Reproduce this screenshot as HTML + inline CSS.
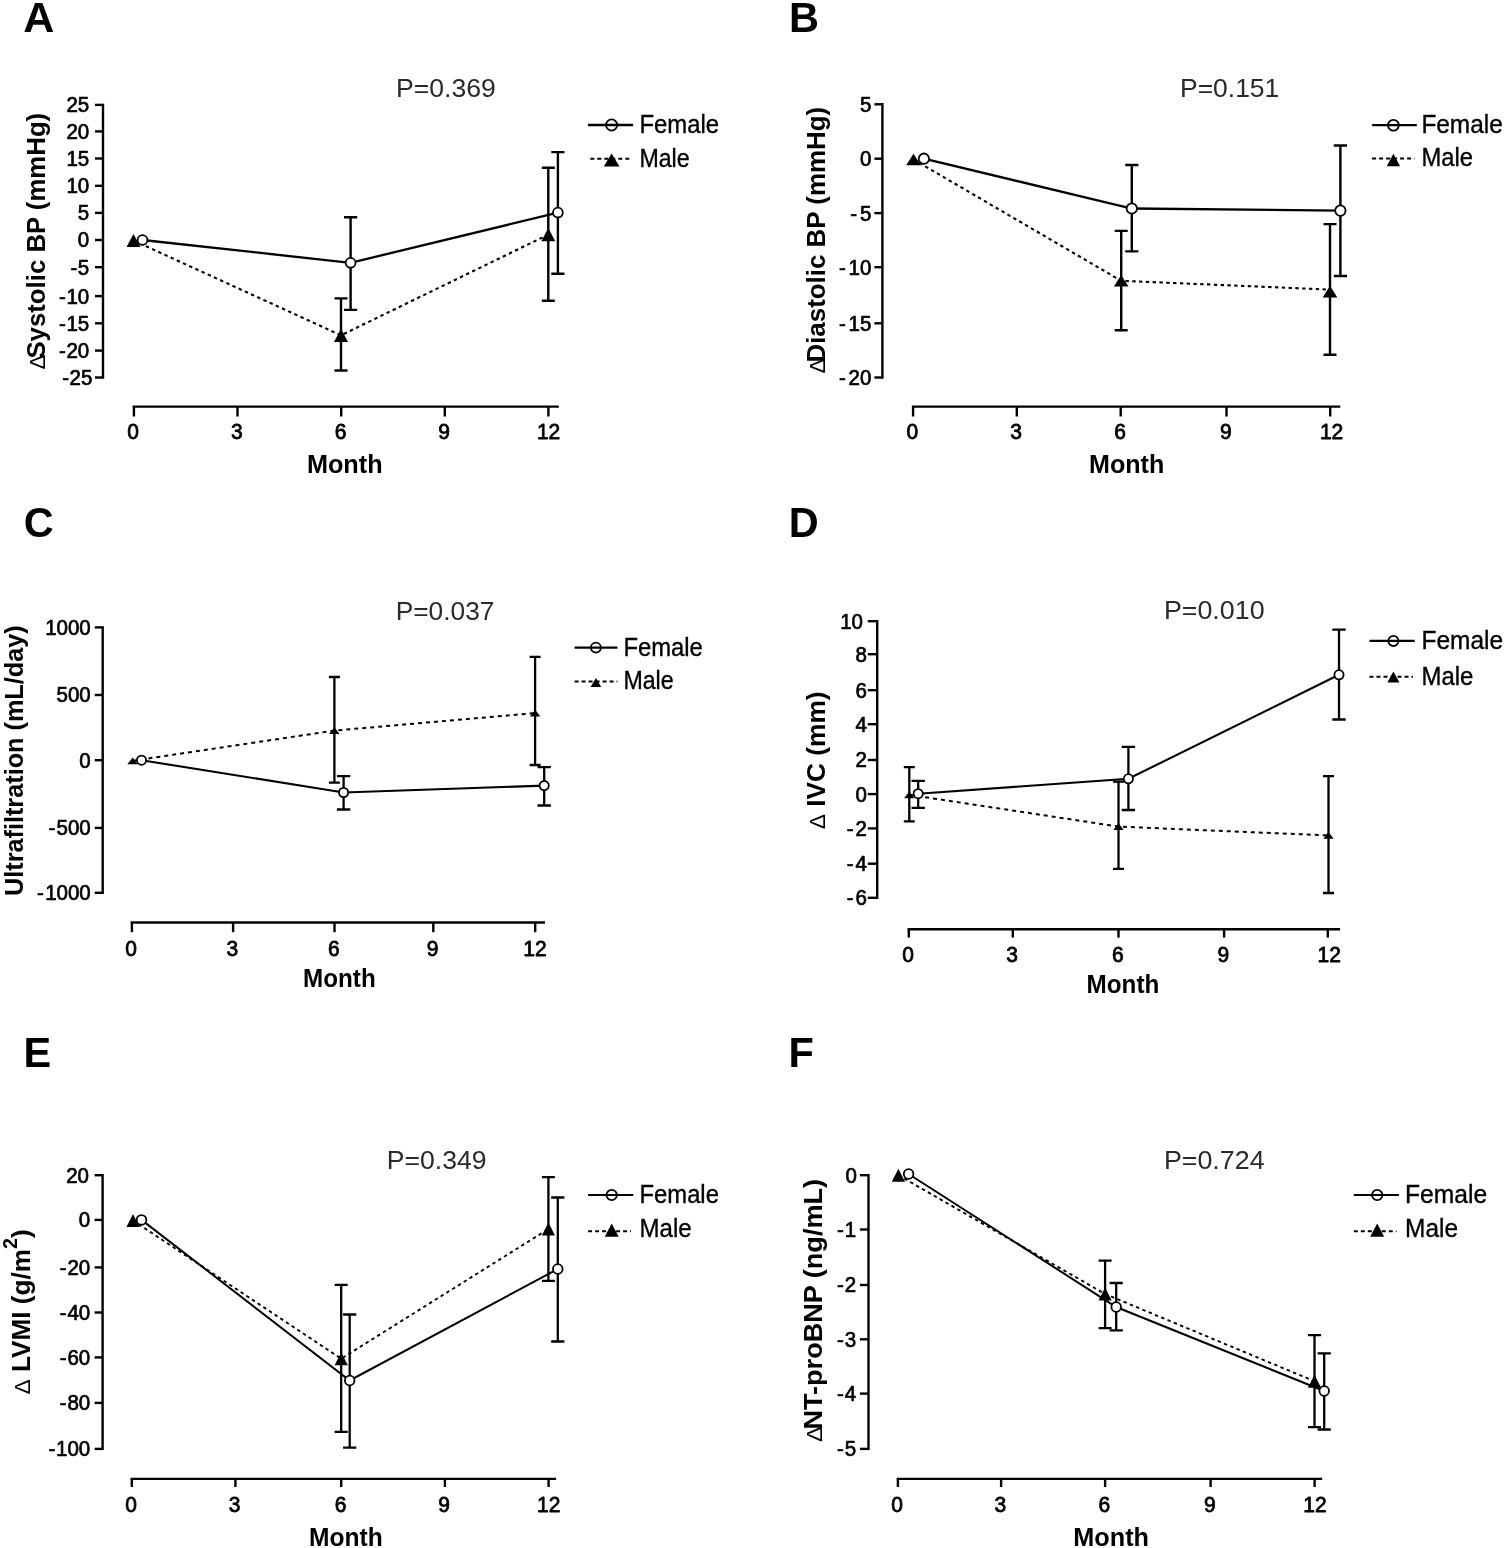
<!DOCTYPE html>
<html lang="en">
<head>
<meta charset="utf-8">
<title>Figure: changes by sex over 12 months (panels A-F)</title>
<style>
html,body{margin:0;padding:0;background:#fff;}
body{width:1505px;height:1548px;overflow:hidden;}
svg{display:block;font-family:"Liberation Sans", sans-serif;}
.pv{fill:#2a2a2a;}
.lg{stroke:#000;stroke-width:0.35px;}
.dl{font-size:22px;font-weight:normal;}
.tl text{stroke:#000;stroke-width:0.7px;stroke-linejoin:round;}
.tl text.xl{stroke-width:0.8px;}
</style>
</head>
<body>
<svg width="1505" height="1548" viewBox="0 0 1505 1548" role="img" aria-label="Six line charts comparing female and male patients over 12 months">
<rect width="1505" height="1548" fill="#fff"/>
<g class="panel" id="panel-A">
<text x="23.3" y="32" font-size="43" font-weight="bold" textLength="31.05" lengthAdjust="spacingAndGlyphs">A</text>
<g class="plot">
<text x="396" y="97.2" font-size="26.5" textLength="99.9" lengthAdjust="spacingAndGlyphs" class="pv">P=0.369</text>
<g stroke="#000" fill="none">
<line x1="103" y1="103.7" x2="103" y2="378.7" stroke-width="2.4"/>
<line x1="95" y1="104.9" x2="103" y2="104.9" stroke-width="2.4"/>
<line x1="95" y1="131.4" x2="103" y2="131.4" stroke-width="2.4"/>
<line x1="95" y1="158.5" x2="103" y2="158.5" stroke-width="2.4"/>
<line x1="95" y1="185.8" x2="103" y2="185.8" stroke-width="2.4"/>
<line x1="95" y1="212.9" x2="103" y2="212.9" stroke-width="2.4"/>
<line x1="95" y1="240" x2="103" y2="240" stroke-width="2.4"/>
<line x1="95" y1="267.2" x2="103" y2="267.2" stroke-width="2.4"/>
<line x1="95" y1="296.1" x2="103" y2="296.1" stroke-width="2.4"/>
<line x1="95" y1="323.3" x2="103" y2="323.3" stroke-width="2.4"/>
<line x1="95" y1="350.6" x2="103" y2="350.6" stroke-width="2.4"/>
<line x1="95" y1="377.5" x2="103" y2="377.5" stroke-width="2.4"/>
<line x1="132.7" y1="406.6" x2="558.8" y2="406.6" stroke-width="2.4"/>
<line x1="133.9" y1="406.6" x2="133.9" y2="416.5" stroke-width="2.4"/>
<line x1="237.5" y1="406.6" x2="237.5" y2="416.5" stroke-width="2.4"/>
<line x1="341.2" y1="406.6" x2="341.2" y2="416.5" stroke-width="2.4"/>
<line x1="444.8" y1="406.6" x2="444.8" y2="416.5" stroke-width="2.4"/>
<line x1="548.4" y1="406.6" x2="548.4" y2="416.5" stroke-width="2.4"/>
</g>
<g class="tl">
<text transform="translate(89.2 112.3) scale(0.962 1)" font-size="21.3" text-anchor="end">25</text>
<text transform="translate(89.2 138.8) scale(0.962 1)" font-size="21.3" text-anchor="end">20</text>
<text transform="translate(89.2 165.9) scale(0.962 1)" font-size="21.3" text-anchor="end">15</text>
<text transform="translate(89.2 193.2) scale(0.962 1)" font-size="21.3" text-anchor="end">10</text>
<text transform="translate(89.2 220.3) scale(0.962 1)" font-size="21.3" text-anchor="end">5</text>
<text transform="translate(89.2 247.4) scale(0.962 1)" font-size="21.3" text-anchor="end">0</text>
<text transform="translate(89.2 274.6) scale(0.962 1)" font-size="21.3" text-anchor="end">-<tspan dx="0.52">5</tspan></text>
<text transform="translate(89.2 303.5) scale(0.962 1)" font-size="21.3" text-anchor="end">-<tspan dx="0.52">10</tspan></text>
<text transform="translate(89.2 330.7) scale(0.962 1)" font-size="21.3" text-anchor="end">-<tspan dx="0.52">15</tspan></text>
<text transform="translate(89.2 358) scale(0.962 1)" font-size="21.3" text-anchor="end">-<tspan dx="0.52">20</tspan></text>
<text transform="translate(92.3 384.9) scale(0.962 1)" font-size="21.3" text-anchor="end">-<tspan dx="0.52">25</tspan></text>
<text x="133.2" y="439.4" font-size="21.6" text-anchor="middle" textLength="11.68" lengthAdjust="spacingAndGlyphs" class="xl">0</text>
<text x="236.8" y="439.4" font-size="21.6" text-anchor="middle" textLength="11.68" lengthAdjust="spacingAndGlyphs" class="xl">3</text>
<text x="340.5" y="439.4" font-size="21.6" text-anchor="middle" textLength="11.68" lengthAdjust="spacingAndGlyphs" class="xl">6</text>
<text x="444.1" y="439.4" font-size="21.6" text-anchor="middle" textLength="11.68" lengthAdjust="spacingAndGlyphs" class="xl">9</text>
<text x="548.6" y="439.4" font-size="21.6" text-anchor="middle" textLength="23.35" lengthAdjust="spacingAndGlyphs" class="xl">12</text>
</g>
<text x="306.9" y="473.1" font-size="25.3" font-weight="bold" textLength="75.7" lengthAdjust="spacingAndGlyphs" class="at">Month</text>
<text transform="translate(45 369.5) rotate(-90) scale(1 1.04)" font-size="25.3" font-weight="bold" textLength="256.7" lengthAdjust="spacingAndGlyphs" class="at"><tspan class="dl">Δ</tspan><tspan dx="-4">Systolic BP (mmHg)</tspan></text>
<g stroke="#000" fill="none">
<path d="M334.5 298.4H347.5M341 298.4V370.5M334.5 370.5H347.5" stroke-width="2.4"/>
<path d="M541.8 167.8H554.8M548.3 167.8V300.7M541.8 300.7H554.8" stroke-width="2.4"/>
<path d="M344 217.3H357.2M350.6 217.3V309.9M344 309.9H357.2" stroke-width="2.4"/>
<path d="M551.3 152.1H564.5M557.9 152.1V273.8M551.3 273.8H564.5" stroke-width="2.4"/>
<polyline points="133.5,240.5 341,335.3 548.3,234.6" stroke-width="2.1" stroke-dasharray="3.4 3.4"/>
<polyline points="142.5,240 350.6,262.8 557.9,212.6" stroke-width="2.3"/>
</g>
<path d="M133.5 233.9L140.5 247.1H126.5Z"/>
<path d="M341 328.7L348 341.9H334Z"/>
<path d="M548.3 228L555.3 241.2H541.3Z"/>
<circle cx="142.5" cy="240" r="4.9" fill="#fff" stroke="#000" stroke-width="1.8"/>
<circle cx="350.6" cy="262.8" r="4.9" fill="#fff" stroke="#000" stroke-width="1.8"/>
<circle cx="557.9" cy="212.6" r="4.9" fill="#fff" stroke="#000" stroke-width="1.8"/>
<circle cx="611.6" cy="125" r="5.6" fill="#fff" stroke="#000" stroke-width="1.8"/>
<g stroke="#000" fill="none">
<line x1="587.9" y1="125" x2="633.1" y2="125" stroke-width="2.3"/>
<line x1="590.3" y1="158.8" x2="631.1" y2="158.8" stroke-width="2.1" stroke-dasharray="4 3"/>
</g>
<path d="M611.6 153.5L619.4 166.5H603.8Z"/>
<text x="639.4" y="132.8" font-size="25.2" textLength="79.7" lengthAdjust="spacingAndGlyphs" class="lg">Female</text>
<text x="639.4" y="166.8" font-size="25.2" textLength="50.2" lengthAdjust="spacingAndGlyphs" class="lg">Male</text>
</g>
</g>
<g class="panel" id="panel-B">
<text x="789" y="32" font-size="43" font-weight="bold" textLength="29.96" lengthAdjust="spacingAndGlyphs">B</text>
<g class="plot">
<text x="1180" y="97.2" font-size="26.5" textLength="99.3" lengthAdjust="spacingAndGlyphs" class="pv">P=0.151</text>
<g stroke="#000" fill="none">
<line x1="882.4" y1="103.1" x2="882.4" y2="378.7" stroke-width="2.4"/>
<line x1="874.4" y1="104.3" x2="882.4" y2="104.3" stroke-width="2.4"/>
<line x1="874.4" y1="158.7" x2="882.4" y2="158.7" stroke-width="2.4"/>
<line x1="874.4" y1="213.1" x2="882.4" y2="213.1" stroke-width="2.4"/>
<line x1="874.4" y1="267.2" x2="882.4" y2="267.2" stroke-width="2.4"/>
<line x1="874.4" y1="323.3" x2="882.4" y2="323.3" stroke-width="2.4"/>
<line x1="874.4" y1="377.5" x2="882.4" y2="377.5" stroke-width="2.4"/>
<line x1="911.9" y1="406.6" x2="1340.3" y2="406.6" stroke-width="2.4"/>
<line x1="913.1" y1="406.6" x2="913.1" y2="416.5" stroke-width="2.4"/>
<line x1="1016.8" y1="406.6" x2="1016.8" y2="416.5" stroke-width="2.4"/>
<line x1="1120.7" y1="406.6" x2="1120.7" y2="416.5" stroke-width="2.4"/>
<line x1="1226.5" y1="406.6" x2="1226.5" y2="416.5" stroke-width="2.4"/>
<line x1="1330.2" y1="406.6" x2="1330.2" y2="416.5" stroke-width="2.4"/>
</g>
<g class="tl">
<text transform="translate(871.3 111.7) scale(0.962 1)" font-size="21.3" text-anchor="end">5</text>
<text transform="translate(871.3 166.1) scale(0.962 1)" font-size="21.3" text-anchor="end">0</text>
<text transform="translate(871.3 220.5) scale(0.962 1)" font-size="21.3" text-anchor="end">-<tspan dx="2.91">5</tspan></text>
<text transform="translate(871.3 274.6) scale(0.962 1)" font-size="21.3" text-anchor="end">-<tspan dx="2.91">10</tspan></text>
<text transform="translate(871.3 330.7) scale(0.962 1)" font-size="21.3" text-anchor="end">-<tspan dx="2.91">15</tspan></text>
<text transform="translate(871.3 384.9) scale(0.962 1)" font-size="21.3" text-anchor="end">-<tspan dx="2.91">20</tspan></text>
<text x="912.4" y="439.4" font-size="21.6" text-anchor="middle" textLength="11.68" lengthAdjust="spacingAndGlyphs" class="xl">0</text>
<text x="1016.1" y="439.4" font-size="21.6" text-anchor="middle" textLength="11.68" lengthAdjust="spacingAndGlyphs" class="xl">3</text>
<text x="1120" y="439.4" font-size="21.6" text-anchor="middle" textLength="11.68" lengthAdjust="spacingAndGlyphs" class="xl">6</text>
<text x="1225.8" y="439.4" font-size="21.6" text-anchor="middle" textLength="11.68" lengthAdjust="spacingAndGlyphs" class="xl">9</text>
<text x="1331.6" y="439.4" font-size="21.6" text-anchor="middle" textLength="23.35" lengthAdjust="spacingAndGlyphs" class="xl">12</text>
</g>
<text x="1089" y="473.1" font-size="25.3" font-weight="bold" textLength="75.3" lengthAdjust="spacingAndGlyphs" class="at">Month</text>
<text transform="translate(824.5 373.5) rotate(-90) scale(1 1.04)" font-size="25.3" font-weight="bold" textLength="266.7" lengthAdjust="spacingAndGlyphs" class="at"><tspan class="dl">Δ</tspan><tspan dx="-4">Diastolic BP (mmHg)</tspan></text>
<g stroke="#000" fill="none">
<path d="M1114.7 230.9H1127.7M1121.2 230.9V330.2M1114.7 330.2H1127.7" stroke-width="2.4"/>
<path d="M1323.5 224.1H1336.5M1330 224.1V354.7M1323.5 354.7H1336.5" stroke-width="2.4"/>
<path d="M1125.2 165H1138.4M1131.8 165V251.4M1125.2 251.4H1138.4" stroke-width="2.4"/>
<path d="M1333.8 145.5H1347M1340.4 145.5V276M1333.8 276H1347" stroke-width="2.4"/>
<polyline points="913.5,159.5 1121.2,280.8 1330,289.6" stroke-width="2.1" stroke-dasharray="3.4 3.4"/>
<polyline points="923.9,158.7 1131.8,208.5 1340.4,210.6" stroke-width="2.3"/>
</g>
<path d="M913.5 153.7L920.8 165.3H906.2Z"/>
<path d="M1121.2 275L1128.5 286.6H1113.9Z"/>
<path d="M1330 285.8L1337.3 297.4H1322.7Z"/>
<circle cx="923.9" cy="158.7" r="5.2" fill="#fff" stroke="#000" stroke-width="1.8"/>
<circle cx="1131.8" cy="208.5" r="5.2" fill="#fff" stroke="#000" stroke-width="1.8"/>
<circle cx="1340.4" cy="210.6" r="5.2" fill="#fff" stroke="#000" stroke-width="1.8"/>
<circle cx="1393.4" cy="125.2" r="5.4" fill="#fff" stroke="#000" stroke-width="1.8"/>
<g stroke="#000" fill="none">
<line x1="1372.1" y1="125.2" x2="1416.8" y2="125.2" stroke-width="2.3"/>
<line x1="1372.1" y1="158.5" x2="1414.6" y2="158.5" stroke-width="2.1" stroke-dasharray="4 3"/>
</g>
<path d="M1393.4 153.7L1400.1 166.3H1386.7Z"/>
<text x="1421.4" y="132.6" font-size="25.2" textLength="81.4" lengthAdjust="spacingAndGlyphs" class="lg">Female</text>
<text x="1421.4" y="166.4" font-size="25.2" textLength="51.6" lengthAdjust="spacingAndGlyphs" class="lg">Male</text>
</g>
</g>
<g class="panel" id="panel-C">
<text x="23.8" y="537.4" font-size="43" font-weight="bold" textLength="29.96" lengthAdjust="spacingAndGlyphs">C</text>
<g class="plot">
<text x="395.7" y="619.6" font-size="26.5" textLength="98.7" lengthAdjust="spacingAndGlyphs" class="pv">P=0.037</text>
<g stroke="#000" fill="none">
<line x1="102.7" y1="626.2" x2="102.7" y2="894" stroke-width="2.4"/>
<line x1="94.7" y1="627.4" x2="102.7" y2="627.4" stroke-width="2.4"/>
<line x1="94.7" y1="695" x2="102.7" y2="695" stroke-width="2.4"/>
<line x1="94.7" y1="760.2" x2="102.7" y2="760.2" stroke-width="2.4"/>
<line x1="94.7" y1="827.9" x2="102.7" y2="827.9" stroke-width="2.4"/>
<line x1="94.7" y1="892.8" x2="102.7" y2="892.8" stroke-width="2.4"/>
<line x1="130.7" y1="922.5" x2="545" y2="922.5" stroke-width="2.4"/>
<line x1="131.9" y1="922.5" x2="131.9" y2="932.2" stroke-width="2.4"/>
<line x1="233.1" y1="922.5" x2="233.1" y2="932.2" stroke-width="2.4"/>
<line x1="334.5" y1="922.5" x2="334.5" y2="932.2" stroke-width="2.4"/>
<line x1="433.3" y1="922.5" x2="433.3" y2="932.2" stroke-width="2.4"/>
<line x1="535.2" y1="922.5" x2="535.2" y2="932.2" stroke-width="2.4"/>
</g>
<g class="tl">
<text transform="translate(90.7 634.8) scale(0.962 1)" font-size="21.3" text-anchor="end">1000</text>
<text transform="translate(90.7 702.4) scale(0.962 1)" font-size="21.3" text-anchor="end">500</text>
<text transform="translate(90.7 767.6) scale(0.962 1)" font-size="21.3" text-anchor="end">0</text>
<text transform="translate(90.7 835.3) scale(0.962 1)" font-size="21.3" text-anchor="end">-<tspan dx="1.35">500</tspan></text>
<text transform="translate(90.7 900.2) scale(0.962 1)" font-size="21.3" text-anchor="end">-<tspan dx="1.35">1000</tspan></text>
<text x="131.2" y="955.6" font-size="21.6" text-anchor="middle" textLength="11.68" lengthAdjust="spacingAndGlyphs" class="xl">0</text>
<text x="232.4" y="955.6" font-size="21.6" text-anchor="middle" textLength="11.68" lengthAdjust="spacingAndGlyphs" class="xl">3</text>
<text x="333.8" y="955.6" font-size="21.6" text-anchor="middle" textLength="11.68" lengthAdjust="spacingAndGlyphs" class="xl">6</text>
<text x="432.6" y="955.6" font-size="21.6" text-anchor="middle" textLength="11.68" lengthAdjust="spacingAndGlyphs" class="xl">9</text>
<text x="535" y="955.6" font-size="21.6" text-anchor="middle" textLength="23.35" lengthAdjust="spacingAndGlyphs" class="xl">12</text>
</g>
<text x="303" y="986.8" font-size="25.3" font-weight="bold" textLength="72.7" lengthAdjust="spacingAndGlyphs" class="at">Month</text>
<text transform="translate(23.2 896) rotate(-90) scale(1 1.04)" font-size="25.3" font-weight="bold" textLength="270.7" lengthAdjust="spacingAndGlyphs" class="at">Ultrafiltration (mL/day)</text>
<g stroke="#000" fill="none">
<path d="M328.9 677H339.9M334.4 677V782.6M328.9 782.6H339.9" stroke-width="2.3"/>
<path d="M529.6 656.9H540.6M535.1 656.9V765M529.6 765H540.6" stroke-width="2.3"/>
<path d="M336.9 776.2H350.3M343.6 776.2V809.5M336.9 809.5H350.3" stroke-width="2.3"/>
<path d="M537.5 767.1H550.9M544.2 767.1V805.5M537.5 805.5H550.9" stroke-width="2.3"/>
<polyline points="132.6,760.8 334.4,730.6 535.1,713.1" stroke-width="2" stroke-dasharray="4 4"/>
<polyline points="141.5,760.2 343.6,792.5 544.2,785.6" stroke-width="2.1"/>
</g>
<path d="M132.6 757.4L137.8 764.2H127.4Z"/>
<path d="M334.4 727.2L339.6 734H329.2Z"/>
<path d="M535.1 709.7L540.3 716.5H529.9Z"/>
<circle cx="141.5" cy="760.2" r="4.6" fill="#fff" stroke="#000" stroke-width="1.8"/>
<circle cx="343.6" cy="792.5" r="4.6" fill="#fff" stroke="#000" stroke-width="1.8"/>
<circle cx="544.2" cy="785.6" r="4.6" fill="#fff" stroke="#000" stroke-width="1.8"/>
<circle cx="595.9" cy="647.6" r="5" fill="#fff" stroke="#000" stroke-width="1.8"/>
<g stroke="#000" fill="none">
<line x1="574.6" y1="647.6" x2="617.4" y2="647.6" stroke-width="2.1"/>
<line x1="574.6" y1="681.5" x2="617.4" y2="681.5" stroke-width="2" stroke-dasharray="4 3"/>
</g>
<path d="M595.9 678L601.2 687H590.6Z"/>
<text x="623.4" y="655.8" font-size="25.2" textLength="79.5" lengthAdjust="spacingAndGlyphs" class="lg">Female</text>
<text x="623.4" y="689.4" font-size="25.2" textLength="50.2" lengthAdjust="spacingAndGlyphs" class="lg">Male</text>
</g>
</g>
<g class="panel" id="panel-D">
<text x="788.7" y="537.4" font-size="43" font-weight="bold" textLength="29.96" lengthAdjust="spacingAndGlyphs">D</text>
<g class="plot">
<text x="1163.9" y="619.3" font-size="26.5" textLength="100.7" lengthAdjust="spacingAndGlyphs" class="pv">P=0.010</text>
<g stroke="#000" fill="none">
<line x1="877.2" y1="620" x2="877.2" y2="899" stroke-width="2.4"/>
<line x1="867.8" y1="621.2" x2="877.2" y2="621.2" stroke-width="2.4"/>
<line x1="867.8" y1="654.2" x2="877.2" y2="654.2" stroke-width="2.4"/>
<line x1="867.8" y1="690.2" x2="877.2" y2="690.2" stroke-width="2.4"/>
<line x1="867.8" y1="724.2" x2="877.2" y2="724.2" stroke-width="2.4"/>
<line x1="867.8" y1="760" x2="877.2" y2="760" stroke-width="2.4"/>
<line x1="867.8" y1="794.1" x2="877.2" y2="794.1" stroke-width="2.4"/>
<line x1="867.8" y1="828.4" x2="877.2" y2="828.4" stroke-width="2.4"/>
<line x1="867.8" y1="863.7" x2="877.2" y2="863.7" stroke-width="2.4"/>
<line x1="867.8" y1="897.8" x2="877.2" y2="897.8" stroke-width="2.4"/>
<line x1="907.6" y1="929.3" x2="1340.1" y2="929.3" stroke-width="2.4"/>
<line x1="908.8" y1="929.3" x2="908.8" y2="937.6" stroke-width="2.4"/>
<line x1="1012.8" y1="929.3" x2="1012.8" y2="937.6" stroke-width="2.4"/>
<line x1="1118.5" y1="929.3" x2="1118.5" y2="937.6" stroke-width="2.4"/>
<line x1="1224.1" y1="929.3" x2="1224.1" y2="937.6" stroke-width="2.4"/>
<line x1="1327.8" y1="929.3" x2="1327.8" y2="937.6" stroke-width="2.4"/>
</g>
<g class="tl">
<text transform="translate(863 628.6) scale(0.962 1)" font-size="21.3" text-anchor="end">10</text>
<text transform="translate(866.9 661.6) scale(0.962 1)" font-size="21.3" text-anchor="end">8</text>
<text transform="translate(866.9 697.6) scale(0.962 1)" font-size="21.3" text-anchor="end">6</text>
<text transform="translate(866.9 731.6) scale(0.962 1)" font-size="21.3" text-anchor="end">4</text>
<text transform="translate(866.9 767.4) scale(0.962 1)" font-size="21.3" text-anchor="end">2</text>
<text transform="translate(866.9 801.5) scale(0.962 1)" font-size="21.3" text-anchor="end">0</text>
<text transform="translate(866.9 835.8) scale(0.962 1)" font-size="21.3" text-anchor="end">-<tspan dx="2.08">2</tspan></text>
<text transform="translate(866.9 871.1) scale(0.962 1)" font-size="21.3" text-anchor="end">-<tspan dx="2.08">4</tspan></text>
<text transform="translate(866.9 905.2) scale(0.962 1)" font-size="21.3" text-anchor="end">-<tspan dx="2.08">6</tspan></text>
<text x="908.1" y="961.8" font-size="21.6" text-anchor="middle" textLength="11.68" lengthAdjust="spacingAndGlyphs" class="xl">0</text>
<text x="1012.1" y="961.8" font-size="21.6" text-anchor="middle" textLength="11.68" lengthAdjust="spacingAndGlyphs" class="xl">3</text>
<text x="1117.8" y="961.8" font-size="21.6" text-anchor="middle" textLength="11.68" lengthAdjust="spacingAndGlyphs" class="xl">6</text>
<text x="1223.4" y="961.8" font-size="21.6" text-anchor="middle" textLength="11.68" lengthAdjust="spacingAndGlyphs" class="xl">9</text>
<text x="1329.2" y="961.8" font-size="21.6" text-anchor="middle" textLength="23.35" lengthAdjust="spacingAndGlyphs" class="xl">12</text>
</g>
<text x="1086.6" y="993.1" font-size="25.3" font-weight="bold" textLength="72.7" lengthAdjust="spacingAndGlyphs" class="at">Month</text>
<text transform="translate(824.8 829.3) rotate(-90) scale(1 1.04)" font-size="25.3" font-weight="bold" textLength="137.8" lengthAdjust="spacingAndGlyphs" class="at"><tspan class="dl">Δ</tspan> IVC (mm)</text>
<g stroke="#000" fill="none">
<path d="M903.8 767.2H914.8M909.3 767.2V821.4M903.8 821.4H914.8" stroke-width="2.3"/>
<path d="M1113 781.7H1124M1118.5 781.7V868.8M1113 868.8H1124" stroke-width="2.3"/>
<path d="M1323 776.2H1334M1328.5 776.2V893M1323 893H1334" stroke-width="2.3"/>
<path d="M911.5 780.8H924.9M918.2 780.8V807.9M911.5 807.9H924.9" stroke-width="2.3"/>
<path d="M1121.7 746.8H1135.1M1128.4 746.8V810M1121.7 810H1135.1" stroke-width="2.3"/>
<path d="M1332.3 629.7H1345.7M1339 629.7V719.5M1332.3 719.5H1345.7" stroke-width="2.3"/>
<polyline points="909.3,794.8 1118.5,826.6 1328.5,835.4" stroke-width="2" stroke-dasharray="4 4"/>
<polyline points="918.2,793.7 1128.4,778.8 1339,674.8" stroke-width="2.1"/>
</g>
<path d="M909.3 791.4L914.5 798.2H904.1Z"/>
<path d="M1118.5 823.2L1123.7 830H1113.3Z"/>
<path d="M1328.5 832L1333.7 838.8H1323.3Z"/>
<circle cx="918.2" cy="793.7" r="4.6" fill="#fff" stroke="#000" stroke-width="1.8"/>
<circle cx="1128.4" cy="778.8" r="4.6" fill="#fff" stroke="#000" stroke-width="1.8"/>
<circle cx="1339" cy="674.8" r="4.6" fill="#fff" stroke="#000" stroke-width="1.8"/>
<circle cx="1393.4" cy="640.9" r="5.1" fill="#fff" stroke="#000" stroke-width="1.8"/>
<g stroke="#000" fill="none">
<line x1="1369.5" y1="640.9" x2="1414.7" y2="640.9" stroke-width="2.1"/>
<line x1="1369.5" y1="676.7" x2="1413" y2="676.7" stroke-width="2" stroke-dasharray="4 3"/>
</g>
<path d="M1393.4 671.6L1399.4 682.4H1387.4Z"/>
<text x="1421.5" y="648.8" font-size="25.2" textLength="81.5" lengthAdjust="spacingAndGlyphs" class="lg">Female</text>
<text x="1421.5" y="684.7" font-size="25.2" textLength="51.8" lengthAdjust="spacingAndGlyphs" class="lg">Male</text>
</g>
</g>
<g class="panel" id="panel-E">
<text x="23.5" y="1067.4" font-size="43" font-weight="bold" textLength="27.68" lengthAdjust="spacingAndGlyphs">E</text>
<g class="plot">
<text x="386.8" y="1168.8" font-size="26.5" textLength="99.8" lengthAdjust="spacingAndGlyphs" class="pv">P=0.349</text>
<g stroke="#000" fill="none">
<line x1="102.6" y1="1174" x2="102.6" y2="1450.1" stroke-width="2.4"/>
<line x1="94.6" y1="1175.2" x2="102.6" y2="1175.2" stroke-width="2.4"/>
<line x1="94.6" y1="1219.9" x2="102.6" y2="1219.9" stroke-width="2.4"/>
<line x1="94.6" y1="1267.4" x2="102.6" y2="1267.4" stroke-width="2.4"/>
<line x1="94.6" y1="1312.5" x2="102.6" y2="1312.5" stroke-width="2.4"/>
<line x1="94.6" y1="1357.4" x2="102.6" y2="1357.4" stroke-width="2.4"/>
<line x1="94.6" y1="1402.9" x2="102.6" y2="1402.9" stroke-width="2.4"/>
<line x1="94.6" y1="1448.9" x2="102.6" y2="1448.9" stroke-width="2.4"/>
<line x1="130.6" y1="1478.9" x2="556.1" y2="1478.9" stroke-width="2.4"/>
<line x1="131.8" y1="1478.9" x2="131.8" y2="1487" stroke-width="2.4"/>
<line x1="235.4" y1="1478.9" x2="235.4" y2="1487" stroke-width="2.4"/>
<line x1="341.2" y1="1478.9" x2="341.2" y2="1487" stroke-width="2.4"/>
<line x1="444.9" y1="1478.9" x2="444.9" y2="1487" stroke-width="2.4"/>
<line x1="548.6" y1="1478.9" x2="548.6" y2="1487" stroke-width="2.4"/>
</g>
<g class="tl">
<text transform="translate(89 1182.6) scale(0.962 1)" font-size="21.3" text-anchor="end">20</text>
<text transform="translate(90.2 1227.3) scale(0.962 1)" font-size="21.3" text-anchor="end">0</text>
<text transform="translate(90.2 1274.8) scale(0.962 1)" font-size="21.3" text-anchor="end">-<tspan dx="0.83">20</tspan></text>
<text transform="translate(90.2 1319.9) scale(0.962 1)" font-size="21.3" text-anchor="end">-<tspan dx="0.83">40</tspan></text>
<text transform="translate(90.2 1364.8) scale(0.962 1)" font-size="21.3" text-anchor="end">-<tspan dx="0.83">60</tspan></text>
<text transform="translate(90.2 1410.3) scale(0.962 1)" font-size="21.3" text-anchor="end">-<tspan dx="0.83">80</tspan></text>
<text transform="translate(90.2 1456.3) scale(0.962 1)" font-size="21.3" text-anchor="end">-<tspan dx="0.83">100</tspan></text>
<text x="131.1" y="1511.8" font-size="21.6" text-anchor="middle" textLength="11.68" lengthAdjust="spacingAndGlyphs" class="xl">0</text>
<text x="234.7" y="1511.8" font-size="21.6" text-anchor="middle" textLength="11.68" lengthAdjust="spacingAndGlyphs" class="xl">3</text>
<text x="340.5" y="1511.8" font-size="21.6" text-anchor="middle" textLength="11.68" lengthAdjust="spacingAndGlyphs" class="xl">6</text>
<text x="444.2" y="1511.8" font-size="21.6" text-anchor="middle" textLength="11.68" lengthAdjust="spacingAndGlyphs" class="xl">9</text>
<text x="548.7" y="1511.8" font-size="21.6" text-anchor="middle" textLength="23.35" lengthAdjust="spacingAndGlyphs" class="xl">12</text>
</g>
<text x="309" y="1545.6" font-size="25.3" font-weight="bold" textLength="73.7" lengthAdjust="spacingAndGlyphs" class="at">Month</text>
<text transform="translate(29.7 1394.4) rotate(-90) scale(1 1.04)" font-size="25.3" font-weight="bold" textLength="165" lengthAdjust="spacingAndGlyphs" class="at"><tspan class="dl">Δ</tspan> LVMI (g/m<tspan font-size="19" dy="-12.5">2</tspan><tspan dy="12.5">)</tspan></text>
<g stroke="#000" fill="none">
<path d="M334.7 1284.9H347.7M341.2 1284.9V1431.9M334.7 1431.9H347.7" stroke-width="2.3"/>
<path d="M541.9 1177.2H554.9M548.4 1177.2V1280.8M541.9 1280.8H554.9" stroke-width="2.3"/>
<path d="M343.1 1314.5H356.3M349.7 1314.5V1447.6M343.1 1447.6H356.3" stroke-width="2.3"/>
<path d="M551.2 1197.5H564.4M557.8 1197.5V1341.5M551.2 1341.5H564.4" stroke-width="2.3"/>
<polyline points="133,1220.5 341.2,1358.7 548.4,1229" stroke-width="1.9" stroke-dasharray="3.4 3.4"/>
<polyline points="141.5,1219.9 349.7,1380.5 557.8,1269" stroke-width="2"/>
</g>
<path d="M133 1214L139.6 1227H126.4Z"/>
<path d="M341.2 1352.2L347.8 1365.2H334.6Z"/>
<path d="M548.4 1222.5L555 1235.5H541.8Z"/>
<circle cx="141.5" cy="1219.9" r="4.8" fill="#fff" stroke="#000" stroke-width="1.8"/>
<circle cx="349.7" cy="1380.5" r="4.8" fill="#fff" stroke="#000" stroke-width="1.8"/>
<circle cx="557.8" cy="1269" r="4.8" fill="#fff" stroke="#000" stroke-width="1.8"/>
<circle cx="611.7" cy="1195" r="5.2" fill="#fff" stroke="#000" stroke-width="1.8"/>
<g stroke="#000" fill="none">
<line x1="588.1" y1="1195" x2="633.3" y2="1195" stroke-width="2"/>
<line x1="588.1" y1="1231.2" x2="631" y2="1231.2" stroke-width="1.9" stroke-dasharray="4 3"/>
</g>
<path d="M611.7 1223.6L618.7 1236.8H604.7Z"/>
<text x="639.6" y="1202.8" font-size="25.2" textLength="79.3" lengthAdjust="spacingAndGlyphs" class="lg">Female</text>
<text x="639.6" y="1236.8" font-size="25.2" textLength="52.1" lengthAdjust="spacingAndGlyphs" class="lg">Male</text>
</g>
</g>
<g class="panel" id="panel-F">
<text x="788.5" y="1067.4" font-size="43" font-weight="bold" textLength="25.35" lengthAdjust="spacingAndGlyphs">F</text>
<g class="plot">
<text x="1163.9" y="1168.7" font-size="26.5" textLength="100.7" lengthAdjust="spacingAndGlyphs" class="pv">P=0.724</text>
<g stroke="#000" fill="none">
<line x1="868.5" y1="1174" x2="868.5" y2="1450.1" stroke-width="2.4"/>
<line x1="859.9" y1="1175.2" x2="868.5" y2="1175.2" stroke-width="2.4"/>
<line x1="859.9" y1="1229.5" x2="868.5" y2="1229.5" stroke-width="2.4"/>
<line x1="859.9" y1="1285" x2="868.5" y2="1285" stroke-width="2.4"/>
<line x1="859.9" y1="1339.3" x2="868.5" y2="1339.3" stroke-width="2.4"/>
<line x1="859.9" y1="1393.6" x2="868.5" y2="1393.6" stroke-width="2.4"/>
<line x1="859.9" y1="1448.9" x2="868.5" y2="1448.9" stroke-width="2.4"/>
<line x1="896.7" y1="1478.9" x2="1322.2" y2="1478.9" stroke-width="2.4"/>
<line x1="897.9" y1="1478.9" x2="897.9" y2="1487" stroke-width="2.4"/>
<line x1="1001.1" y1="1478.9" x2="1001.1" y2="1487" stroke-width="2.4"/>
<line x1="1105.1" y1="1478.9" x2="1105.1" y2="1487" stroke-width="2.4"/>
<line x1="1210.6" y1="1478.9" x2="1210.6" y2="1487" stroke-width="2.4"/>
<line x1="1314.6" y1="1478.9" x2="1314.6" y2="1487" stroke-width="2.4"/>
</g>
<g class="tl">
<text transform="translate(856.9 1182.6) scale(0.962 1)" font-size="21.3" text-anchor="end">0</text>
<text transform="translate(856.1 1236.9) scale(0.962 1)" font-size="21.3" text-anchor="end">-<tspan dx="1.04">1</tspan></text>
<text transform="translate(856.1 1292.4) scale(0.962 1)" font-size="21.3" text-anchor="end">-<tspan dx="1.04">2</tspan></text>
<text transform="translate(856.1 1346.7) scale(0.962 1)" font-size="21.3" text-anchor="end">-<tspan dx="1.04">3</tspan></text>
<text transform="translate(856.1 1401) scale(0.962 1)" font-size="21.3" text-anchor="end">-<tspan dx="1.04">4</tspan></text>
<text transform="translate(856.1 1456.3) scale(0.962 1)" font-size="21.3" text-anchor="end">-<tspan dx="1.04">5</tspan></text>
<text x="897.2" y="1511.8" font-size="21.6" text-anchor="middle" textLength="11.68" lengthAdjust="spacingAndGlyphs" class="xl">0</text>
<text x="1000.4" y="1511.8" font-size="21.6" text-anchor="middle" textLength="11.68" lengthAdjust="spacingAndGlyphs" class="xl">3</text>
<text x="1104.4" y="1511.8" font-size="21.6" text-anchor="middle" textLength="11.68" lengthAdjust="spacingAndGlyphs" class="xl">6</text>
<text x="1209.9" y="1511.8" font-size="21.6" text-anchor="middle" textLength="11.68" lengthAdjust="spacingAndGlyphs" class="xl">9</text>
<text x="1315" y="1511.8" font-size="21.6" text-anchor="middle" textLength="23.35" lengthAdjust="spacingAndGlyphs" class="xl">12</text>
</g>
<text x="1073.3" y="1545.6" font-size="25.3" font-weight="bold" textLength="75.7" lengthAdjust="spacingAndGlyphs" class="at">Month</text>
<text transform="translate(822 1442) rotate(-90) scale(1 1.04)" font-size="25.3" font-weight="bold" textLength="263" lengthAdjust="spacingAndGlyphs" class="at"><tspan class="dl">Δ</tspan><tspan dx="-3">NT-proBNP (ng/mL)</tspan></text>
<g stroke="#000" fill="none">
<path d="M1098.6 1260.6H1111.6M1105.1 1260.6V1328.1M1098.6 1328.1H1111.6" stroke-width="2.3"/>
<path d="M1308 1335.1H1321M1314.5 1335.1V1427.2M1308 1427.2H1321" stroke-width="2.3"/>
<path d="M1109.6 1283H1122.8M1116.2 1283V1330.4M1109.6 1330.4H1122.8" stroke-width="2.3"/>
<path d="M1317.6 1353.3H1330.8M1324.2 1353.3V1429.5M1317.6 1429.5H1330.8" stroke-width="2.3"/>
<polyline points="898.4,1175.2 1105.1,1294 1314.5,1381.2" stroke-width="1.9" stroke-dasharray="3.4 3.4"/>
<polyline points="908.6,1174 1116.2,1307 1324.2,1391" stroke-width="2"/>
</g>
<path d="M898.4 1168.7L905 1181.7H891.8Z"/>
<path d="M1105.1 1287.5L1111.7 1300.5H1098.5Z"/>
<path d="M1314.5 1374.7L1321.1 1387.7H1307.9Z"/>
<circle cx="908.6" cy="1174" r="4.8" fill="#fff" stroke="#000" stroke-width="1.8"/>
<circle cx="1116.2" cy="1307" r="4.8" fill="#fff" stroke="#000" stroke-width="1.8"/>
<circle cx="1324.2" cy="1391" r="4.8" fill="#fff" stroke="#000" stroke-width="1.8"/>
<circle cx="1377.2" cy="1195" r="5.2" fill="#fff" stroke="#000" stroke-width="1.8"/>
<g stroke="#000" fill="none">
<line x1="1353.8" y1="1195" x2="1399" y2="1195" stroke-width="2"/>
<line x1="1353.8" y1="1231.2" x2="1396.5" y2="1231.2" stroke-width="1.9" stroke-dasharray="4 3"/>
</g>
<path d="M1377.2 1223.6L1384.2 1236.8H1370.2Z"/>
<text x="1405.1" y="1202.8" font-size="25.2" textLength="82" lengthAdjust="spacingAndGlyphs" class="lg">Female</text>
<text x="1405.1" y="1236.8" font-size="25.2" textLength="52.9" lengthAdjust="spacingAndGlyphs" class="lg">Male</text>
</g>
</g>
</svg>
</body>
</html>
